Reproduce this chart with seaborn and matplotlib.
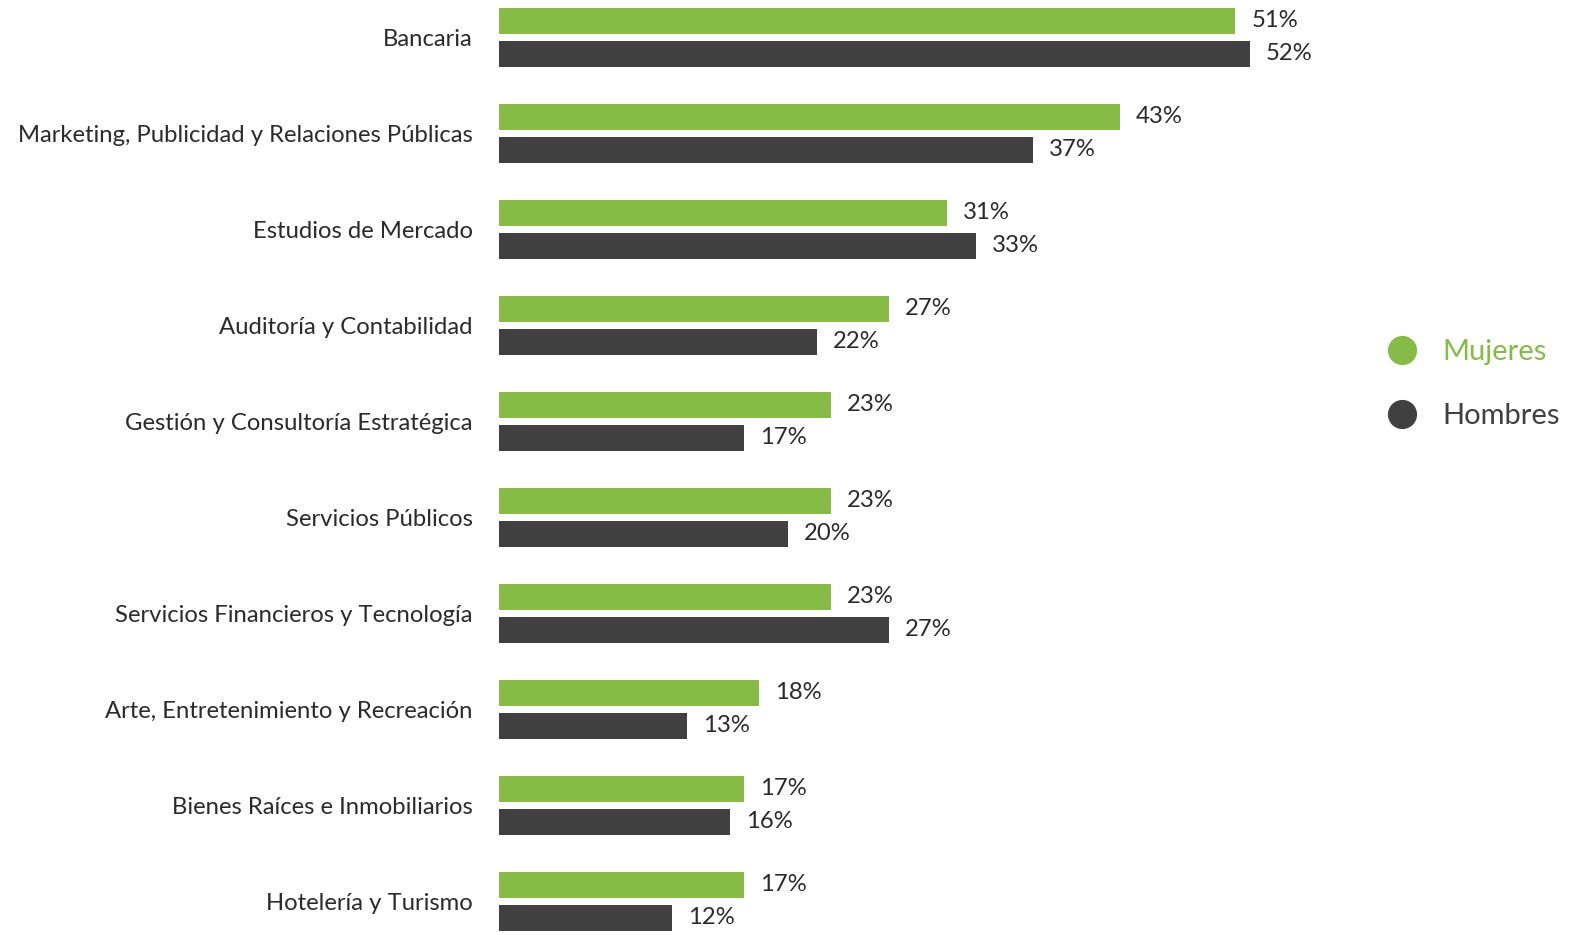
import pandas as pd
import matplotlib.pyplot as plt
import seaborn as sns
from matplotlib.lines import Line2D

sns.set_style('white')
plt.rcParams['font.family'] = ['Lato', 'DejaVu Sans']

# Datos (% por sector)
sectores = [
    'Bancaria',
    'Marketing, Publicidad y Relaciones Públicas',
    'Estudios de Mercado',
    'Auditoría y Contabilidad',
    'Gestión y Consultoría Estratégica',
    'Servicios Públicos',
    'Servicios Financieros y Tecnología',
    'Arte, Entretenimiento y Recreación',
    'Bienes Raíces e Inmobiliarios',
    'Hotelería y Turismo',
]
mujeres = [51, 43, 31, 27, 23, 23, 23, 18, 17, 17]
hombres = [52, 37, 33, 22, 17, 20, 27, 13, 16, 12]
generos = ['Mujeres', 'Hombres']
colores = ['#86BB47', '#404040']

df = pd.DataFrame({
    'sector': sectores * 2,
    'genero': ['Mujeres'] * len(sectores) + ['Hombres'] * len(sectores),
    'valor': mujeres + hombres,
})

fig = plt.figure(figsize=(15.75, 9.35), dpi=100)
ax = fig.add_axes([499 / 1575, 0, (1330 - 499) / 1575, 1])

sns.barplot(data=df, y='sector', x='valor', hue='genero', hue_order=generos,
            palette=colores, orient='h', width=0.688, gap=0.21,
            linewidth=0, saturation=1, legend=False, ax=ax)

# Etiquetas de valor
for cont, vals in zip(ax.containers, [mujeres, hombres]):
    ax.bar_label(cont, labels=[f'{v}%' for v in vals], padding=11.5,
                 fontsize=17.2, color='#2b2b2b')

ax.set_xlim(0, (1330 - 499) / 14.44)
ax.set_ylim(9.35, -0.39)
ax.set_xlabel('')
ax.set_ylabel('')
ax.set_xticks([])
ax.tick_params(axis='y', length=0, pad=19, labelsize=17.2, labelcolor='#2b2b2b')
sns.despine(ax=ax, left=True, bottom=True)

# Leyenda
handles = [Line2D([], [], marker='o', linestyle='', markersize=20, color=c)
           for c in colores]
fig.legend(handles, generos, loc='center left', bbox_to_anchor=(1358 / 1575, 1 - 384 / 935),
           frameon=False, fontsize=21, labelcolor=colores, handletextpad=0.8,
           labelspacing=1.3, handlelength=1.2)

plt.savefig('out.png', dpi=100, facecolor='white')
